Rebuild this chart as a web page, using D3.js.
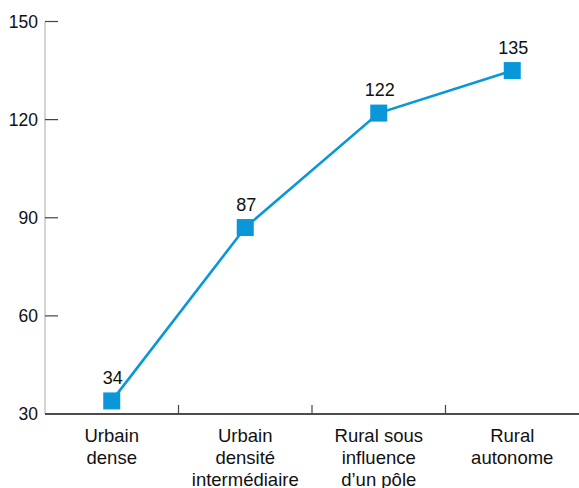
<!DOCTYPE html>
<html>
<head>
<meta charset="utf-8">
<script src="https://cdn.jsdelivr.net/npm/d3@7"></script>
<style>
  html, body { margin: 0; padding: 0; background: #fff; }
  svg { display: block; font-family: "Liberation Sans", Arial, Helvetica, sans-serif; }
</style>
</head>
<body>
<svg id="chart" width="579" height="488"></svg>
<script>
// Categories (multi-line labels) and values per territory type
const categories = [
  ["Urbain", "dense"],
  ["Urbain", "densité", "intermédiaire"],
  ["Rural sous", "influence", "d’un pôle"],
  ["Rural", "autonome"]
];
const values = [34, 87, 122, 135];
const yTicks = [30, 60, 90, 120, 150];

const svg = d3.select("#chart");
const mLeft = 45, mRight = 579, mTop = 21.5, mBottom = 414;
const blue = "#0a97d9";

const x = d3.scaleBand().domain(d3.range(categories.length)).range([mLeft, mRight]);
const y = d3.scaleLinear().domain([30, 150]).range([mBottom, mTop]);

// Y axis: light vertical line, short ticks pointing into the plot
svg.append("line")
  .attr("x1", mLeft).attr("x2", mLeft)
  .attr("y1", y(150)).attr("y2", y(30))
  .attr("stroke", "#a8a8a8").attr("stroke-width", 1);

const yAxis = svg.append("g");
yAxis.selectAll("line").data(yTicks.filter(d => d !== 30)).join("line")
  .attr("x1", mLeft).attr("x2", mLeft + 13)
  .attr("y1", d => y(d)).attr("y2", d => y(d))
  .attr("stroke", "#444").attr("stroke-width", 1.2);
yAxis.selectAll("text").data(yTicks).join("text")
  .attr("x", mLeft - 7).attr("y", d => y(d))
  .attr("dy", "0.35em")
  .attr("text-anchor", "end")
  .attr("font-size", 17.5)
  .attr("fill", "#111")
  .text(d => d);

// X axis baseline with separators between categories
svg.append("line")
  .attr("x1", mLeft).attr("x2", mRight)
  .attr("y1", mBottom).attr("y2", mBottom)
  .attr("stroke", "#111").attr("stroke-width", 1.3);
svg.append("g").selectAll("line").data(d3.range(1, categories.length)).join("line")
  .attr("x1", d => x(d)).attr("x2", d => x(d))
  .attr("y1", mBottom - 9).attr("y2", mBottom)
  .attr("stroke", "#444").attr("stroke-width", 1.2);

// Category labels
const cat = svg.append("g").selectAll("text").data(categories).join("text")
  .attr("x", (d, i) => x(i) + x.bandwidth() / 2)
  .attr("y", mBottom + 28)
  .attr("text-anchor", "middle")
  .attr("font-size", 18.5)
  .attr("fill", "#111");
cat.selectAll("tspan").data(d => d).join("tspan")
  .attr("x", function () { return d3.select(this.parentNode).attr("x"); })
  .attr("dy", (d, i) => i === 0 ? 0 : 22)
  .text(d => d);

// Line and square markers
const cx = i => x(i) + x.bandwidth() / 2;
svg.append("path")
  .datum(values)
  .attr("fill", "none")
  .attr("stroke", blue)
  .attr("stroke-width", 2.6)
  .attr("d", d3.line().x((d, i) => cx(i)).y(d => y(d)));

const s = 17;
svg.append("g").selectAll("rect").data(values).join("rect")
  .attr("x", (d, i) => cx(i) - s / 2)
  .attr("y", d => y(d) - s / 2)
  .attr("width", s).attr("height", s)
  .attr("fill", blue);

// Value labels above markers
svg.append("g").selectAll("text").data(values).join("text")
  .attr("x", (d, i) => cx(i) + 1)
  .attr("y", d => y(d) - 17)
  .attr("text-anchor", "middle")
  .attr("font-size", 18)
  .attr("fill", "#111")
  .text(d => d);
</script>
</body>
</html>
